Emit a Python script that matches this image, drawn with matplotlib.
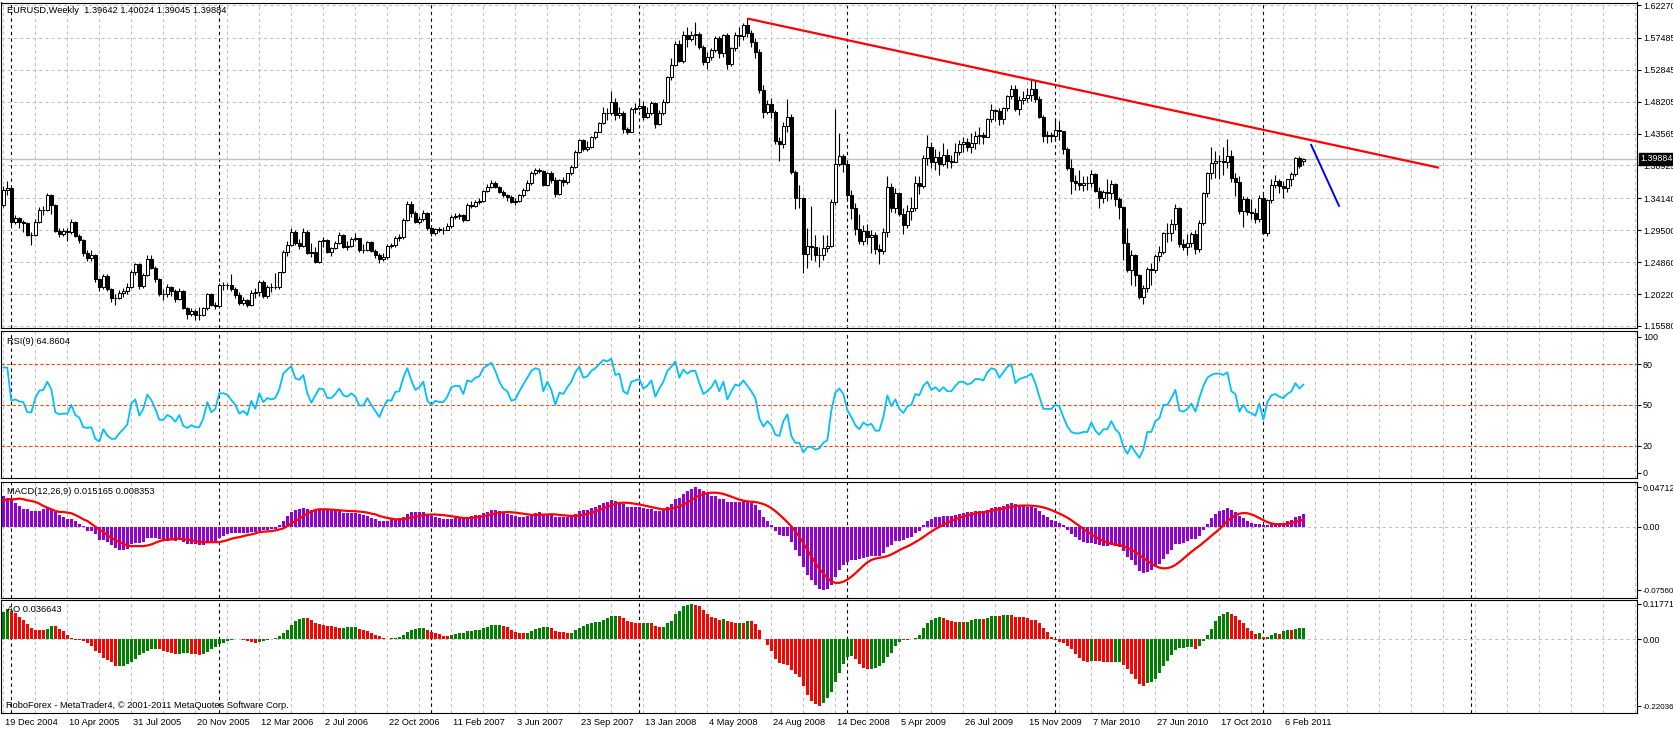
import matplotlib
matplotlib.use("Agg")
import matplotlib.pyplot as plt
import numpy as np

# ---- weekly EURUSD bars, 19 Dec 2004 .. 13 Mar 2011 (bar index 0..325) ----
closes = [
    1.3537, 1.3560, 1.3075, 1.3133, 1.3064, 1.3050, 1.2884, 1.2880, 1.3076, 1.3246,
    1.3250, 1.3464, 1.3319, 1.2945, 1.2897, 1.2940, 1.2930, 1.3066, 1.2868, 1.2810,
    1.2615, 1.2543, 1.2591, 1.2237, 1.2120, 1.2285, 1.2096, 1.1960, 1.1965, 1.2043,
    1.2067, 1.2130, 1.2349, 1.2455, 1.2145, 1.2300, 1.2533, 1.2407, 1.2237, 1.2024,
    1.2020, 1.2130, 1.2072, 1.1946, 1.2067, 1.1815, 1.1728, 1.1780, 1.1718, 1.1720,
    1.1815, 1.2019, 1.1864, 1.1850, 1.2155, 1.2160, 1.2150, 1.2096, 1.2009, 1.1898,
    1.1935, 1.1864, 1.2043, 1.2048, 1.2203, 1.1990, 1.2130, 1.2120, 1.2130, 1.2339,
    1.2630, 1.2737, 1.2931, 1.2771, 1.2722, 1.2931, 1.2625, 1.2640, 1.2494, 1.2795,
    1.2809, 1.2640, 1.2688, 1.2760, 1.2882, 1.2712, 1.2722, 1.2819, 1.2834, 1.2664,
    1.2670, 1.2775, 1.2654, 1.2591, 1.2528, 1.2560, 1.2727, 1.2737, 1.2834, 1.2858,
    1.3100, 1.3333, 1.3197, 1.3076, 1.3110, 1.3197, 1.2979, 1.2916, 1.2965, 1.2955,
    1.2960, 1.3013, 1.3149, 1.3163, 1.3173, 1.3100, 1.3319, 1.3309, 1.3362, 1.3377,
    1.3527, 1.3586, 1.3644, 1.3586, 1.3513, 1.3464, 1.3440, 1.3367, 1.3381, 1.3460,
    1.3537, 1.3644, 1.3789, 1.3828, 1.3818, 1.3610, 1.3779, 1.3682, 1.3479, 1.3682,
    1.3658, 1.3779, 1.3876, 1.4095, 1.4264, 1.4129, 1.4167, 1.4303, 1.4386, 1.4507,
    1.4662, 1.4652, 1.4822, 1.4628, 1.4652, 1.4420, 1.4386, 1.4710, 1.4725, 1.4764,
    1.4604, 1.4662, 1.4798, 1.4497, 1.4662, 1.4822, 1.5176, 1.5356, 1.5661, 1.5414,
    1.5792, 1.5729, 1.5792, 1.5802, 1.5613, 1.5404, 1.5467, 1.5574, 1.5744, 1.5535,
    1.5792, 1.5365, 1.5598, 1.5792, 1.5777, 1.5938, 1.5826, 1.5695, 1.5550, 1.4992,
    1.4677, 1.4789, 1.4677, 1.4255, 1.4206, 1.4468, 1.4604, 1.3792, 1.3423, 1.3423,
    1.2606, 1.2722, 1.2712, 1.2591, 1.2596, 1.2688, 1.2722, 1.3367, 1.3915, 1.4032,
    1.3915, 1.3464, 1.3270, 1.2964, 1.2800, 1.2940, 1.2858, 1.2880, 1.2674, 1.2654,
    1.2931, 1.3576, 1.3270, 1.3498, 1.3188, 1.3028, 1.3236, 1.3270, 1.3644, 1.3600,
    1.3998, 1.4158, 1.3949, 1.4022, 1.3915, 1.4050, 1.3960, 1.3950, 1.4095, 1.4206,
    1.4230, 1.4167, 1.4216, 1.4327, 1.4330, 1.4313, 1.4565, 1.4701, 1.4690, 1.4565,
    1.4725, 1.4905, 1.5002, 1.4711, 1.4846, 1.4870, 1.4919, 1.5000, 1.4856, 1.4594,
    1.4322, 1.4330, 1.4320, 1.4410, 1.4390, 1.4128, 1.3852, 1.3673, 1.3640, 1.3610,
    1.3634, 1.3640, 1.3770, 1.3527, 1.3416, 1.3500, 1.3495, 1.3620, 1.3404, 1.3292,
    1.2768, 1.2371, 1.2587, 1.2296, 1.1980, 1.2106, 1.2382, 1.2373, 1.2577, 1.2640,
    1.2916, 1.2905, 1.3042, 1.3270, 1.2746, 1.2702, 1.2761, 1.2897, 1.2674, 1.3052,
    1.3488, 1.3780, 1.3935, 1.3964, 1.3965, 1.3940, 1.4032, 1.3707, 1.3658, 1.3236,
    1.3401, 1.3222, 1.3200, 1.3110, 1.3416, 1.2906, 1.3391, 1.3610, 1.3660, 1.3600,
    1.3560, 1.3690, 1.3775, 1.4003, 1.3886, 1.39884,
]
opens = [
    1.3319, 1.3537, 1.3560, 1.3075, 1.3133, 1.3064, 1.3050, 1.2884, 1.2880, 1.3076,
    1.3246, 1.3250, 1.3464, 1.3319, 1.2945, 1.2897, 1.2940, 1.2930, 1.3066, 1.2868,
    1.2810, 1.2615, 1.2543, 1.2591, 1.2237, 1.2120, 1.2285, 1.2096, 1.1960, 1.1965,
    1.2043, 1.2067, 1.2130, 1.2349, 1.2455, 1.2145, 1.2300, 1.2533, 1.2407, 1.2237,
    1.2024, 1.2020, 1.2130, 1.2072, 1.1946, 1.2067, 1.1815, 1.1728, 1.1780, 1.1718,
    1.1720, 1.1815, 1.2019, 1.1864, 1.1850, 1.2155, 1.2160, 1.2150, 1.2096, 1.2009,
    1.1898, 1.1935, 1.1864, 1.2043, 1.2048, 1.2203, 1.1990, 1.2130, 1.2120, 1.2130,
    1.2339, 1.2630, 1.2737, 1.2931, 1.2771, 1.2722, 1.2931, 1.2625, 1.2640, 1.2494,
    1.2795, 1.2809, 1.2640, 1.2688, 1.2760, 1.2882, 1.2712, 1.2722, 1.2819, 1.2834,
    1.2664, 1.2670, 1.2775, 1.2654, 1.2591, 1.2528, 1.2560, 1.2727, 1.2737, 1.2834,
    1.2858, 1.3100, 1.3333, 1.3197, 1.3076, 1.3110, 1.3197, 1.2979, 1.2916, 1.2965,
    1.2955, 1.2960, 1.3013, 1.3149, 1.3163, 1.3173, 1.3100, 1.3319, 1.3309, 1.3362,
    1.3377, 1.3527, 1.3586, 1.3644, 1.3586, 1.3513, 1.3464, 1.3440, 1.3367, 1.3381,
    1.3460, 1.3537, 1.3644, 1.3789, 1.3828, 1.3818, 1.3610, 1.3779, 1.3682, 1.3479,
    1.3682, 1.3658, 1.3779, 1.3876, 1.4095, 1.4264, 1.4129, 1.4167, 1.4303, 1.4386,
    1.4507, 1.4662, 1.4652, 1.4822, 1.4628, 1.4652, 1.4420, 1.4386, 1.4710, 1.4725,
    1.4764, 1.4604, 1.4662, 1.4798, 1.4497, 1.4662, 1.4822, 1.5176, 1.5356, 1.5661,
    1.5414, 1.5792, 1.5729, 1.5792, 1.5802, 1.5613, 1.5404, 1.5467, 1.5574, 1.5744,
    1.5535, 1.5792, 1.5365, 1.5598, 1.5792, 1.5777, 1.5938, 1.5826, 1.5695, 1.5550,
    1.4992, 1.4677, 1.4789, 1.4677, 1.4255, 1.4206, 1.4468, 1.4604, 1.3792, 1.3423,
    1.3423, 1.2606, 1.2722, 1.2712, 1.2591, 1.2596, 1.2688, 1.2722, 1.3367, 1.3915,
    1.4032, 1.3915, 1.3464, 1.3270, 1.2964, 1.2800, 1.2940, 1.2858, 1.2880, 1.2674,
    1.2654, 1.2931, 1.3576, 1.3270, 1.3498, 1.3188, 1.3028, 1.3236, 1.3270, 1.3644,
    1.3600, 1.3998, 1.4158, 1.3949, 1.4022, 1.3915, 1.4050, 1.3960, 1.3950, 1.4095,
    1.4206, 1.4230, 1.4167, 1.4216, 1.4327, 1.4330, 1.4313, 1.4565, 1.4701, 1.4690,
    1.4565, 1.4725, 1.4905, 1.5002, 1.4711, 1.4846, 1.4870, 1.4919, 1.5000, 1.4856,
    1.4594, 1.4322, 1.4330, 1.4320, 1.4410, 1.4390, 1.4128, 1.3852, 1.3673, 1.3640,
    1.3610, 1.3634, 1.3640, 1.3770, 1.3527, 1.3416, 1.3500, 1.3495, 1.3620, 1.3404,
    1.3292, 1.2768, 1.2371, 1.2587, 1.2296, 1.1980, 1.2106, 1.2382, 1.2373, 1.2577,
    1.2640, 1.2916, 1.2905, 1.3042, 1.3270, 1.2746, 1.2702, 1.2761, 1.2897, 1.2674,
    1.3052, 1.3488, 1.3780, 1.3935, 1.3964, 1.3965, 1.3940, 1.4032, 1.3707, 1.3658,
    1.3236, 1.3401, 1.3222, 1.3200, 1.3110, 1.3416, 1.2906, 1.3391, 1.3610, 1.3660,
    1.3600, 1.3560, 1.3690, 1.3775, 1.4003, 1.39642,
]
highs = [
    1.3600, 1.3666, 1.3580, 1.3170, 1.3140, 1.3100, 1.3070, 1.2920, 1.3110, 1.3290,
    1.3300, 1.3490, 1.3480, 1.3330, 1.2990, 1.2990, 1.2980, 1.3110, 1.3080, 1.2900,
    1.2830, 1.2660, 1.2660, 1.2610, 1.2250, 1.2310, 1.2310, 1.2110, 1.2030, 1.2080,
    1.2110, 1.2180, 1.2370, 1.2470, 1.2480, 1.2330, 1.2590, 1.2590, 1.2430, 1.2250,
    1.2090, 1.2170, 1.2140, 1.2100, 1.2110, 1.2080, 1.1830, 1.1820, 1.1800, 1.1840,
    1.1830, 1.2040, 1.2040, 1.1900, 1.2190, 1.2200, 1.2180, 1.2320, 1.2120, 1.2050,
    1.1980, 1.1950, 1.2080, 1.2110, 1.2230, 1.2230, 1.2160, 1.2190, 1.2330, 1.2350,
    1.2660, 1.2790, 1.2980, 1.2960, 1.2830, 1.2980, 1.2950, 1.2760, 1.2700, 1.2810,
    1.2850, 1.2830, 1.2710, 1.2800, 1.2920, 1.2890, 1.2790, 1.2850, 1.2910, 1.2840,
    1.2750, 1.2800, 1.2790, 1.2680, 1.2620, 1.2620, 1.2750, 1.2770, 1.2870, 1.2900,
    1.3130, 1.3370, 1.3370, 1.3230, 1.3160, 1.3240, 1.3220, 1.3010, 1.2990, 1.3000,
    1.3000, 1.3050, 1.3170, 1.3200, 1.3200, 1.3190, 1.3340, 1.3370, 1.3390, 1.3420,
    1.3540, 1.3620, 1.3680, 1.3660, 1.3600, 1.3530, 1.3480, 1.3460, 1.3420, 1.3480,
    1.3560, 1.3680, 1.3810, 1.3850, 1.3850, 1.3830, 1.3800, 1.3810, 1.3720, 1.3700,
    1.3730, 1.3790, 1.3900, 1.4120, 1.4280, 1.4280, 1.4250, 1.4320, 1.4400, 1.4530,
    1.4750, 1.4730, 1.4970, 1.4870, 1.4740, 1.4690, 1.4450, 1.4750, 1.4800, 1.4880,
    1.4830, 1.4740, 1.4830, 1.4820, 1.4700, 1.4860, 1.5200, 1.5460, 1.5710, 1.5720,
    1.5850, 1.5900, 1.5850, 1.5980, 1.5840, 1.5640, 1.5550, 1.5600, 1.5780, 1.5780,
    1.5810, 1.5820, 1.5620, 1.5830, 1.5900, 1.5970, 1.6038, 1.5870, 1.5740, 1.5590,
    1.5060, 1.4840, 1.4870, 1.4700, 1.4300, 1.4520, 1.4867, 1.4640, 1.3830, 1.3610,
    1.3440, 1.2990, 1.3298, 1.2880, 1.2700, 1.2880, 1.2880, 1.3400, 1.4719, 1.4360,
    1.4060, 1.3960, 1.3540, 1.3340, 1.3180, 1.3020, 1.3040, 1.2960, 1.2930, 1.2750,
    1.2990, 1.3740, 1.3640, 1.3570, 1.3500, 1.3280, 1.3320, 1.3440, 1.3740, 1.3740,
    1.4050, 1.4340, 1.4230, 1.4130, 1.4100, 1.4220, 1.4130, 1.4050, 1.4220, 1.4260,
    1.4300, 1.4290, 1.4360, 1.4390, 1.4450, 1.4380, 1.4580, 1.4790, 1.4720, 1.4730,
    1.4750, 1.4920, 1.5060, 1.5070, 1.4900, 1.4970, 1.5020, 1.5144, 1.5143, 1.4900,
    1.4620, 1.4390, 1.4380, 1.4580, 1.4540, 1.4390, 1.4160, 1.3980, 1.3750, 1.3820,
    1.3740, 1.3740, 1.3820, 1.3790, 1.3580, 1.3540, 1.3690, 1.3680, 1.3640, 1.3440,
    1.3300, 1.2990, 1.2670, 1.2610, 1.2320, 1.2160, 1.2420, 1.2470, 1.2610, 1.2720,
    1.2920, 1.3050, 1.3110, 1.3330, 1.3290, 1.2830, 1.2900, 1.2920, 1.2960, 1.3100,
    1.3500, 1.3800, 1.4160, 1.4110, 1.4050, 1.4160, 1.4282, 1.4120, 1.3780, 1.3740,
    1.3450, 1.3430, 1.3410, 1.3280, 1.3460, 1.3480, 1.3400, 1.3700, 1.3760, 1.3700,
    1.3670, 1.3700, 1.3800, 1.4010, 1.4035, 1.40024,
]
lows = [
    1.3290, 1.3470, 1.3010, 1.3040, 1.2990, 1.2920, 1.2860, 1.2730, 1.2870, 1.3050,
    1.3170, 1.3230, 1.3180, 1.2930, 1.2850, 1.2870, 1.2800, 1.2900, 1.2850, 1.2770,
    1.2580, 1.2500, 1.2510, 1.2200, 1.2070, 1.2090, 1.2070, 1.1910, 1.1870, 1.1950,
    1.1980, 1.2020, 1.2110, 1.2300, 1.2100, 1.2110, 1.2290, 1.2380, 1.2200, 1.1990,
    1.1940, 1.1980, 1.2000, 1.1910, 1.1930, 1.1800, 1.1660, 1.1710, 1.1650, 1.1640,
    1.1700, 1.1790, 1.1850, 1.1800, 1.1840, 1.2080, 1.2090, 1.2060, 1.1960, 1.1870,
    1.1860, 1.1830, 1.1850, 1.1960, 1.1990, 1.1960, 1.1970, 1.2050, 1.2090, 1.2100,
    1.2330, 1.2580, 1.2720, 1.2730, 1.2680, 1.2700, 1.2600, 1.2560, 1.2470, 1.2480,
    1.2700, 1.2620, 1.2580, 1.2680, 1.2750, 1.2690, 1.2670, 1.2710, 1.2790, 1.2640,
    1.2620, 1.2650, 1.2640, 1.2550, 1.2480, 1.2500, 1.2530, 1.2690, 1.2710, 1.2800,
    1.2830, 1.3080, 1.3150, 1.3050, 1.3040, 1.3080, 1.2960, 1.2870, 1.2880, 1.2920,
    1.2900, 1.2950, 1.2990, 1.3110, 1.3110, 1.3070, 1.3090, 1.3270, 1.3290, 1.3330,
    1.3360, 1.3510, 1.3560, 1.3560, 1.3490, 1.3440, 1.3380, 1.3350, 1.3320, 1.3360,
    1.3440, 1.3520, 1.3610, 1.3760, 1.3780, 1.3590, 1.3600, 1.3640, 1.3430, 1.3460,
    1.3600, 1.3620, 1.3760, 1.3860, 1.4070, 1.4110, 1.4100, 1.4150, 1.4280, 1.4380,
    1.4490, 1.4560, 1.4630, 1.4560, 1.4580, 1.4370, 1.4350, 1.4380, 1.4660, 1.4700,
    1.4560, 1.4580, 1.4630, 1.4440, 1.4480, 1.4630, 1.4800, 1.5140, 1.5340, 1.5400,
    1.5390, 1.5620, 1.5700, 1.5640, 1.5580, 1.5360, 1.5290, 1.5430, 1.5540, 1.5460,
    1.5470, 1.5300, 1.5340, 1.5560, 1.5630, 1.5720, 1.5760, 1.5620, 1.5460, 1.4950,
    1.4590, 1.4640, 1.4580, 1.4200, 1.3960, 1.4150, 1.4380, 1.3770, 1.3260, 1.3270,
    1.2330, 1.2400, 1.2520, 1.2500, 1.2420, 1.2520, 1.2630, 1.2700, 1.3320, 1.3890,
    1.3800, 1.3370, 1.3120, 1.2880, 1.2750, 1.2740, 1.2750, 1.2620, 1.2600, 1.2460,
    1.2600, 1.2850, 1.3210, 1.3200, 1.3160, 1.2890, 1.2980, 1.3100, 1.3230, 1.3480,
    1.3570, 1.3900, 1.3850, 1.3820, 1.3750, 1.3880, 1.3860, 1.3850, 1.3950, 1.4050,
    1.4090, 1.4100, 1.4080, 1.4130, 1.4200, 1.4210, 1.4300, 1.4520, 1.4540, 1.4480,
    1.4490, 1.4690, 1.4860, 1.4680, 1.4620, 1.4780, 1.4820, 1.4830, 1.4820, 1.4580,
    1.4240, 1.4220, 1.4230, 1.4260, 1.4260, 1.4060, 1.3830, 1.3480, 1.3540, 1.3530,
    1.3520, 1.3530, 1.3580, 1.3500, 1.3270, 1.3340, 1.3380, 1.3410, 1.3310, 1.3110,
    1.2520, 1.2350, 1.2150, 1.2140, 1.1950, 1.1876, 1.2050, 1.2150, 1.2330, 1.2510,
    1.2610, 1.2780, 1.2790, 1.2950, 1.2710, 1.2660, 1.2590, 1.2710, 1.2600, 1.2640,
    1.3020, 1.3440, 1.3690, 1.3710, 1.3700, 1.3760, 1.3860, 1.3650, 1.3450, 1.3180,
    1.3000, 1.3170, 1.3110, 1.3060, 1.3070, 1.2900, 1.2870, 1.3340, 1.3560, 1.3490,
    1.3420, 1.3500, 1.3590, 1.3740, 1.3850, 1.39045,
]

# ---- indicator readings (same bar index) ----
rsi_values = [
    77.5, 77.5, 53, 54, 52.5, 52, 44.5, 44.5, 55, 60.5,
    61, 67, 61.5, 44.5, 43, 43.5, 43.5, 50, 42.5, 40.5,
    33.5, 33, 33.5, 25, 23, 32, 27.5, 25, 25, 29,
    32, 35.5, 51, 54, 42, 47, 57.5, 53.5, 47, 39,
    39, 42.5, 41, 37.5, 42.5, 34.5, 33, 35, 33.5, 33.5,
    40, 52, 44.5, 47, 58.5, 58.5, 57.5, 53.5, 50, 43.5,
    45.5, 42.5, 53, 47, 58.5, 52, 55, 54, 55, 61.5,
    73, 76, 78.5, 69.5, 68.5, 72, 58.5, 51.5, 57, 62,
    61.5, 55, 55, 58, 62, 57, 56, 58.5, 56, 49.5,
    49.5, 55, 50, 45.5, 41, 48, 53.5, 53, 59.5, 60,
    70, 77, 68, 61, 63, 67, 53, 50, 53, 52,
    52, 56, 63, 64, 64, 58, 68, 67, 70, 71,
    77, 79, 81, 75, 67, 62, 60, 53, 54, 60,
    65, 70, 75, 77, 76, 60, 67, 61, 50, 59,
    58, 63, 67, 74, 78, 70, 71, 75, 77, 80,
    83, 82, 84, 72, 73, 60, 58, 67, 68, 69,
    62, 64, 68, 56, 62, 67, 75, 78, 82, 70,
    76, 73, 75, 75, 66, 58, 60, 63, 68, 60,
    67, 54, 60, 65, 64, 68, 64, 60, 55, 40,
    34, 38, 35, 28, 27, 38, 43, 27, 22, 22,
    15, 19, 19, 17, 18, 22, 24, 46, 59, 62,
    58, 46, 41, 35, 32, 37, 35, 36, 31, 31,
    41, 57, 49, 54, 47, 44, 49, 50, 58, 57,
    64, 67, 61, 63, 60, 63, 60, 60, 64, 67,
    67, 65, 66, 69, 69, 68, 74, 77, 76, 70,
    74, 78, 80, 66, 69, 70, 71, 73, 66, 56,
    47, 47, 47, 50, 49, 41, 34, 30, 29, 29,
    30, 30, 37, 31, 28, 32, 32, 38, 32, 29,
    19, 14, 20, 15, 11, 17, 30, 30, 38, 40,
    50, 50, 55, 61, 46, 45, 47, 51, 45, 55,
    64, 70, 72, 73, 73, 72, 74, 60, 58, 45,
    50, 45, 44, 42, 51, 39, 52, 57, 58, 56,
    55, 58, 60, 66, 62, 64.86,
]
macd_main = [
    0.0367, 0.0347, 0.0327, 0.0287, 0.0247, 0.0215, 0.0207, 0.0188, 0.0188, 0.0188,
    0.0207, 0.0235, 0.0215, 0.0176, 0.0136, 0.0116, 0.0096, 0.0088, 0.0068, 0.0028,
    0.0008, -0.0052, -0.0052, -0.0092, -0.0160, -0.0164, -0.0184, -0.0223, -0.0251, -0.0279,
    -0.0279, -0.0263, -0.0211, -0.0192, -0.0192, -0.0184, -0.0132, -0.0132, -0.0132, -0.0152,
    -0.0160, -0.0172, -0.0160, -0.0172, -0.0160, -0.0184, -0.0200, -0.0200, -0.0211, -0.0219,
    -0.0219, -0.0184, -0.0172, -0.0172, -0.0132, -0.0112, -0.0092, -0.0080, -0.0072, -0.0072,
    -0.0072, -0.0072, -0.0064, -0.0064, -0.0052, -0.0040, -0.0040, -0.0032, -0.0024, 0.0016,
    0.0068, 0.0128, 0.0176, 0.0196, 0.0207, 0.0227, 0.0207, 0.0200, 0.0188, 0.0207,
    0.0207, 0.0200, 0.0200, 0.0188, 0.0188, 0.0168, 0.0160, 0.0168, 0.0168, 0.0148,
    0.0136, 0.0128, 0.0108, 0.0088, 0.0068, 0.0068, 0.0068, 0.0088, 0.0096, 0.0100,
    0.0120, 0.0155, 0.0170, 0.0170, 0.0170, 0.0172, 0.0150, 0.0130, 0.0118, 0.0105,
    0.0095, 0.0090, 0.0095, 0.0100, 0.0105, 0.0100, 0.0115, 0.0125, 0.0135, 0.0145,
    0.0165, 0.0180, 0.0195, 0.0195, 0.0185, 0.0170, 0.0155, 0.0135, 0.0122, 0.0118,
    0.0120, 0.0128, 0.0145, 0.0160, 0.0170, 0.0155, 0.0155, 0.0145, 0.0120, 0.0120,
    0.0115, 0.0120, 0.0130, 0.0155, 0.0185, 0.0195, 0.0205, 0.0220, 0.0240, 0.0260,
    0.0285, 0.0300, 0.0320, 0.0310, 0.0300, 0.0265, 0.0235, 0.0240, 0.0240, 0.0240,
    0.0225, 0.0215, 0.0215, 0.0190, 0.0185, 0.0195, 0.0230, 0.0270, 0.0325, 0.0345,
    0.0395, 0.0425, 0.0455, 0.0471, 0.0455, 0.0420, 0.0390, 0.0370, 0.0360, 0.0335,
    0.0335, 0.0300, 0.0290, 0.0295, 0.0295, 0.0305, 0.0300, 0.0285, 0.0260, 0.0195,
    0.0120, 0.0070, 0.0025, -0.0045, -0.0100, -0.0115, -0.0110, -0.0185, -0.0280, -0.0350,
    -0.0480, -0.0570, -0.0640, -0.0695, -0.0740, -0.0756, -0.0745, -0.0690, -0.0600, -0.0510,
    -0.0450, -0.0420, -0.0400, -0.0395, -0.0390, -0.0375, -0.0365, -0.0350, -0.0350, -0.0345,
    -0.0315, -0.0245, -0.0215, -0.0175, -0.0165, -0.0160, -0.0140, -0.0120, -0.0080, -0.0050,
    0.0020, 0.0065, 0.0090, 0.0110, 0.0115, 0.0125, 0.0130, 0.0130, 0.0140, 0.0155,
    0.0165, 0.0170, 0.0175, 0.0185, 0.0190, 0.0190, 0.0205, 0.0225, 0.0240, 0.0240,
    0.0250, 0.0265, 0.0280, 0.0265, 0.0255, 0.0245, 0.0235, 0.0235, 0.0220, 0.0190,
    0.0145, 0.0110, 0.0080, 0.0065, 0.0050, 0.0015, -0.0035, -0.0085, -0.0125, -0.0160,
    -0.0180, -0.0195, -0.0190, -0.0205, -0.0220, -0.0225, -0.0225, -0.0215, -0.0225, -0.0240,
    -0.0290, -0.0360, -0.0400, -0.0460, -0.0530, -0.0555, -0.0540, -0.0520, -0.0480, -0.0440,
    -0.0380, -0.0330, -0.0275, -0.0210, -0.0200, -0.0190, -0.0175, -0.0150, -0.0145, -0.0105,
    -0.0035, 0.0035, 0.0100, 0.0150, 0.0185, 0.0205, 0.0225, 0.0205, 0.0180, 0.0130,
    0.0100, 0.0065, 0.0040, 0.0030, 0.0030, 0.0020, 0.0025, 0.0035, 0.0040, 0.0045,
    0.0050, 0.0065, 0.0080, 0.0110, 0.0125, 0.015165,
]
macd_signal = [
    0.0307, 0.0327, 0.0327, 0.0327, 0.0335, 0.0327, 0.0315, 0.0307, 0.0295, 0.0275,
    0.0247, 0.0227, 0.0207, 0.0188, 0.0176, 0.0176, 0.0168, 0.0160, 0.0140, 0.0116,
    0.0088, 0.0068, 0.0036, 0.0000, -0.0032, -0.0064, -0.0100, -0.0132, -0.0160, -0.0184,
    -0.0204, -0.0223, -0.0231, -0.0231, -0.0231, -0.0231, -0.0223, -0.0211, -0.0192, -0.0172,
    -0.0160, -0.0152, -0.0152, -0.0144, -0.0140, -0.0152, -0.0152, -0.0160, -0.0172, -0.0180,
    -0.0184, -0.0184, -0.0184, -0.0184, -0.0184, -0.0172, -0.0160, -0.0144, -0.0132, -0.0124,
    -0.0112, -0.0100, -0.0092, -0.0080, -0.0064, -0.0060, -0.0056, -0.0052, -0.0044, -0.0032,
    -0.0020, 0.0008, 0.0040, 0.0068, 0.0096, 0.0128, 0.0156, 0.0180, 0.0200, 0.0207,
    0.0207, 0.0207, 0.0203, 0.0200, 0.0196, 0.0192, 0.0188, 0.0188, 0.0184, 0.0180,
    0.0176, 0.0168, 0.0156, 0.0148, 0.0128, 0.0116, 0.0104, 0.0096, 0.0088, 0.0085,
    0.0090, 0.0098, 0.0108, 0.0118, 0.0128, 0.0138, 0.0143, 0.0145, 0.0145, 0.0142,
    0.0138, 0.0132, 0.0125, 0.0118, 0.0110, 0.0104, 0.0103, 0.0105, 0.0110, 0.0116,
    0.0125, 0.0135, 0.0147, 0.0158, 0.0166, 0.0172, 0.0174, 0.0172, 0.0168, 0.0161,
    0.0153, 0.0146, 0.0141, 0.0140, 0.0142, 0.0144, 0.0146, 0.0148, 0.0146, 0.0141,
    0.0137, 0.0132, 0.0128, 0.0128, 0.0133, 0.0142, 0.0153, 0.0166, 0.0182, 0.0199,
    0.0218, 0.0238, 0.0257, 0.0272, 0.0283, 0.0286, 0.0285, 0.0280, 0.0273, 0.0265,
    0.0255, 0.0245, 0.0235, 0.0224, 0.0214, 0.0207, 0.0208, 0.0214, 0.0226, 0.0242,
    0.0264, 0.0290, 0.0318, 0.0346, 0.0372, 0.0390, 0.0400, 0.0405, 0.0405, 0.0400,
    0.0390, 0.0375, 0.0358, 0.0340, 0.0323, 0.0310, 0.0302, 0.0298, 0.0294, 0.0284,
    0.0270, 0.0250, 0.0222, 0.0186, 0.0145, 0.0100, 0.0055, 0.0005, -0.0055, -0.0120,
    -0.0195, -0.0275, -0.0355, -0.0430, -0.0500, -0.0560, -0.0610, -0.0650, -0.0668, -0.0668,
    -0.0655, -0.0630, -0.0595, -0.0555, -0.0510, -0.0465, -0.0425, -0.0395, -0.0380, -0.0370,
    -0.0362, -0.0350, -0.0330, -0.0305, -0.0280, -0.0255, -0.0235, -0.0210, -0.0183, -0.0155,
    -0.0122, -0.0090, -0.0058, -0.0028, 0.0000, 0.0025, 0.0048, 0.0070, 0.0090, 0.0107,
    0.0122, 0.0135, 0.0146, 0.0157, 0.0166, 0.0173, 0.0180, 0.0189, 0.0198, 0.0207,
    0.0216, 0.0226, 0.0236, 0.0245, 0.0250, 0.0252, 0.0252, 0.0250, 0.0246, 0.0240,
    0.0230, 0.0216, 0.0198, 0.0178, 0.0157, 0.0134, 0.0108, 0.0078, 0.0044, 0.0010,
    -0.0025, -0.0060, -0.0090, -0.0120, -0.0147, -0.0170, -0.0189, -0.0203, -0.0214, -0.0220,
    -0.0232, -0.0250, -0.0272, -0.0300, -0.0335, -0.0372, -0.0407, -0.0440, -0.0467, -0.0487,
    -0.0496, -0.0493, -0.0480, -0.0455, -0.0420, -0.0381, -0.0340, -0.0299, -0.0262, -0.0228,
    -0.0190, -0.0150, -0.0108, -0.0070, -0.0030, 0.0020, 0.0068, 0.0105, 0.0135, 0.0155,
    0.0163, 0.0160, 0.0148, 0.0128, 0.0103, 0.0078, 0.0055, 0.0040, 0.0030, 0.0028,
    0.0030, 0.0035, 0.0045, 0.0057, 0.0070, 0.008353,
]
ao_values = [
    0.0900, 0.1000, 0.0930, 0.0870, 0.0760, 0.0650, 0.0520, 0.0380, 0.0310, 0.0310,
    0.0305, 0.0350, 0.0440, 0.0436, 0.0350, 0.0270, 0.0160, 0.0050, -0.0020, -0.0021,
    -0.0050, -0.0130, -0.0200, -0.0380, -0.0460, -0.0600, -0.0680, -0.0760, -0.0890, -0.0880,
    -0.0870, -0.0820, -0.0740, -0.0630, -0.0520, -0.0440, -0.0380, -0.0330, -0.0325, -0.0330,
    -0.0380, -0.0410, -0.0440, -0.0470, -0.0465, -0.0460, -0.0455, -0.0490, -0.0490, -0.0510,
    -0.0490, -0.0410, -0.0330, -0.0240, -0.0160, -0.0110, -0.0050, -0.0020, 0.0005, 0.0000,
    -0.0020, -0.0040, -0.0090, -0.0110, -0.0090, -0.0050, -0.0020, 0.0020, 0.0050, 0.0110,
    0.0200, 0.0310, 0.0490, 0.0600, 0.0680, 0.0710, 0.0705, 0.0630, 0.0550, 0.0520,
    0.0490, 0.0460, 0.0440, 0.0410, 0.0390, 0.0395, 0.0400, 0.0402, 0.0405, 0.0350,
    0.0310, 0.0270, 0.0220, 0.0160, 0.0110, 0.0050, 0.0030, 0.0050, 0.0060, 0.0080,
    0.0160, 0.0247, 0.0310, 0.0335, 0.0370, 0.0378, 0.0305, 0.0245, 0.0215, 0.0183,
    0.0126, 0.0122, 0.0149, 0.0178, 0.0211, 0.0226, 0.0268, 0.0284, 0.0310, 0.0330,
    0.0393, 0.0423, 0.0466, 0.0484, 0.0487, 0.0454, 0.0401, 0.0323, 0.0257, 0.0220,
    0.0211, 0.0225, 0.0281, 0.0343, 0.0393, 0.0399, 0.0409, 0.0369, 0.0290, 0.0247,
    0.0237, 0.0212, 0.0224, 0.0314, 0.0391, 0.0453, 0.0501, 0.0553, 0.0575, 0.0582,
    0.0649, 0.0707, 0.0768, 0.0779, 0.0775, 0.0703, 0.0628, 0.0572, 0.0556, 0.0540,
    0.0543, 0.0559, 0.0536, 0.0459, 0.0406, 0.0415, 0.0549, 0.0626, 0.0830, 0.0943,
    0.1097, 0.1155, 0.1177, 0.1139, 0.1118, 0.0973, 0.0860, 0.0759, 0.0696, 0.0630,
    0.0665, 0.0605, 0.0570, 0.0537, 0.0555, 0.0545, 0.0618, 0.0604, 0.0518, 0.0300,
    0.0020, -0.0194, -0.0397, -0.0640, -0.0786, -0.0822, -0.0853, -0.1010, -0.1140, -0.1255,
    -0.1551, -0.1851, -0.2030, -0.2120, -0.2204, -0.2090, -0.1938, -0.1736, -0.1421, -0.1093,
    -0.0803, -0.0592, -0.0539, -0.0653, -0.0811, -0.0935, -0.0977, -0.0969, -0.0936, -0.0868,
    -0.0785, -0.0579, -0.0433, -0.0225, -0.0074, -0.0003, -0.0029, 0.0000, 0.0046, 0.0154,
    0.0366, 0.0540, 0.0660, 0.0717, 0.0742, 0.0714, 0.0637, 0.0597, 0.0568, 0.0581,
    0.0573, 0.0592, 0.0636, 0.0673, 0.0686, 0.0678, 0.0719, 0.0765, 0.0782, 0.0781,
    0.0808, 0.0817, 0.0808, 0.0753, 0.0753, 0.0743, 0.0698, 0.0653, 0.0633, 0.0537,
    0.0395, 0.0246, 0.0090, -0.0023, -0.0076, -0.0113, -0.0206, -0.0325, -0.0471, -0.0614,
    -0.0703, -0.0737, -0.0707, -0.0710, -0.0725, -0.0732, -0.0740, -0.0749, -0.0747, -0.0742,
    -0.0835, -0.0991, -0.1136, -0.1291, -0.1473, -0.1523, -0.1444, -0.1418, -0.1294, -0.1096,
    -0.0876, -0.0710, -0.0522, -0.0345, -0.0277, -0.0272, -0.0255, -0.0240, -0.0309, -0.0216,
    -0.0048, 0.0153, 0.0352, 0.0600, 0.0772, 0.0854, 0.0896, 0.0846, 0.0777, 0.0640,
    0.0534, 0.0384, 0.0288, 0.0185, 0.0201, 0.0087, 0.0097, 0.0140, 0.0201, 0.0193,
    0.0289, 0.0311, 0.0308, 0.0337, 0.0366, 0.036643,
]

# ---- axis labels / annotations ----
date_labels = [
    "19 Dec 2004", "10 Apr 2005", "31 Jul 2005", "20 Nov 2005", "12 Mar 2006",
    "2 Jul 2006", "22 Oct 2006", "11 Feb 2007", "3 Jun 2007", "23 Sep 2007",
    "13 Jan 2008", "4 May 2008", "24 Aug 2008", "14 Dec 2008", "5 Apr 2009",
    "26 Jul 2009", "15 Nov 2009", "7 Mar 2010", "27 Jun 2010", "17 Oct 2010",
    "6 Feb 2011",
]
price_ticks = [1.62270, 1.57485, 1.52845, 1.48205, 1.43565, 1.38925,
               1.34140, 1.29500, 1.24860, 1.20220, 1.15580]
rsi_ticks = [100, 80, 50, 20, 0]
rsi_levels = [20, 50, 80]
macd_ticks = [0.04712, 0.0, -0.07560]
macd_tick_labels = ["0.04712", "0.00", "-0.07560"]
ao_ticks = [0.11771, 0.0, -0.22036]
ao_tick_labels = ["0.11771", "0.00", "-0.22036"]
year_start_bars = [2, 54, 107, 159, 211, 263, 315, 367]
red_trend = ([186, 358.9], [1.6030, 1.3860])
blue_trend = ([326.85, 334.0], [1.4205, 1.3293])
last_price = 1.39884

W, H = 1674, 730
FONT = "Liberation Sans"
FS = 6.7
FS_AXIS = 6.4
FS_AXIS_LONG = 5.8
GRID = "#c0c0c0"
DASH = (0, (3, 3))


def px_axes(fig, left, top, right, bottom):
    return fig.add_axes([left / W, 1 - bottom / H, (right - left) / W, (bottom - top) / H])


def style_panel(ax):
    ax.set_xlim(-0.45, 408.4)
    ax.set_facecolor("white")
    for sp in ax.spines.values():
        sp.set_color("black")
        sp.set_linewidth(0.8)
    ax.set_xticks(np.arange(0, 409, 8))
    ax.tick_params(axis="x", which="major", length=0, labelbottom=False)
    ax.grid(axis="x", color=GRID, lw=0.75, ls=DASH)
    for b in year_start_bars:
        ax.axvline(b, color="black", lw=0.8, ls=DASH, zorder=1)
    ax.yaxis.tick_right()
    ax.tick_params(axis="y", length=3, width=0.8, pad=1.2, labelsize=FS_AXIS,
                   direction="out")
    for lab in ax.get_yticklabels():
        lab.set_fontfamily(FONT)
        if len(lab.get_text()) > 7:
            lab.set_fontsize(FS_AXIS_LONG)


fig = plt.figure(figsize=(W / 100, H / 100), dpi=100)
fig.patch.set_facecolor("white")

ax_main = px_axes(fig, 1.5, 2.5, 1637, 328.3)
ax_rsi = px_axes(fig, 1.5, 331, 1637, 478.3)
ax_macd = px_axes(fig, 1.5, 481.7, 1637, 597.7)
ax_ao = px_axes(fig, 1.5, 600.3, 1637, 713.3)

# ---- main candles ----
o = np.array(opens)
c = np.array(closes)
hi = np.array(highs)
lo = np.array(lows)
x = np.arange(len(c))
up = c >= o
ax_main.set_ylim(1.15245, 1.62634)
ax_main.set_yticks(price_ticks)
ax_main.set_yticklabels([f"{v:.5f}" for v in price_ticks])
style_panel(ax_main)
ax_main.grid(axis="y", color=GRID, lw=0.75, ls=DASH)
ax_main.axhline(last_price, color="#c0c0c0", lw=1.0, zorder=1)
ax_main.vlines(x, lo, hi, color="black", lw=0.8, zorder=2)
body_lo = np.minimum(o, c)
body_h = np.abs(c - o)
ax_main.bar(x[up], body_h[up], bottom=body_lo[up], width=0.6,
            facecolor="white", edgecolor="black", lw=0.75, zorder=3)
ax_main.bar(x[~up], body_h[~up], bottom=body_lo[~up], width=0.6,
            facecolor="black", edgecolor="black", lw=0.75, zorder=3)
ax_main.plot(*red_trend, color="#ff0000", lw=1.6, zorder=4, solid_capstyle="butt")
ax_main.plot(*blue_trend, color="#0000ff", lw=1.4, zorder=4, solid_capstyle="butt")
ax_main.annotate(f"{last_price:.5f}", xy=(1, last_price), xycoords=("axes fraction", "data"),
                 xytext=(3, 0), textcoords="offset pixels", va="center", ha="left",
                 fontsize=FS_AXIS, family=FONT, color="white", zorder=10,
                 annotation_clip=False,
                 bbox=dict(boxstyle="square,pad=0.15", fc="black", ec="black"))

# ---- RSI ----
rsi = np.array(rsi_values)
ax_rsi.set_ylim(-4.13, 104.4)
ax_rsi.set_yticks(rsi_ticks)
ax_rsi.set_yticklabels([str(v) for v in rsi_ticks])
style_panel(ax_rsi)
for lvl in rsi_levels:
    ax_rsi.axhline(lvl, color="#ff4500", lw=0.8, ls=(0, (3, 2)), zorder=2)
ax_rsi.plot(np.arange(len(rsi)), rsi, color="#00bfff", lw=1.3, zorder=3)

# ---- MACD ----
mm = np.array(macd_main)
ms = np.array(macd_signal)
ax_macd.set_ylim(-0.0845, 0.0536)
ax_macd.set_yticks(macd_ticks)
ax_macd.set_yticklabels(macd_tick_labels)
style_panel(ax_macd)
ax_macd.axhline(0, color=GRID, lw=0.75, ls=DASH, zorder=1)
ax_macd.bar(np.arange(len(mm)), mm, width=0.7, color="#9400d3", lw=0, zorder=2)
ax_macd.plot(np.arange(len(ms)), ms, color="#ff0000", lw=1.6, zorder=3)

# ---- Awesome Oscillator ----
ao = np.array(ao_values)
ao_up = np.concatenate([[True], ao[1:] > ao[:-1]])
ax_ao.set_ylim(-0.2442, 0.1297)
ax_ao.set_yticks(ao_ticks)
ax_ao.set_yticklabels(ao_tick_labels)
style_panel(ax_ao)
ax_ao.axhline(0, color=GRID, lw=0.75, ls=DASH, zorder=1)
ax_ao.bar(np.arange(len(ao)), ao, width=0.7,
          color=np.where(ao_up, "#008000", "#ff0000"), lw=0, zorder=2)

# date labels under the last panel
label_bars = np.arange(len(date_labels)) * 16
ax_ao.set_xticks(label_bars, minor=True)
ax_ao.tick_params(axis="x", which="minor", length=4, width=0.8, direction="out",
                  bottom=True, labelbottom=False)
for b, lab in zip(label_bars, date_labels):
    ax_ao.annotate(lab, xy=(b, 0), xycoords=("data", "axes fraction"),
                   xytext=(2, -9), textcoords="offset pixels", ha="left", va="center",
                   fontsize=FS, family=FONT, color="black", annotation_clip=False)


# panel captions
def caption(xp, yp, s):
    fig.text(xp / W, 1 - yp / H, s, fontsize=FS, family=FONT, color="black",
             ha="left", va="center")


caption(7, 10.5, "EURUSD,Weekly  1.39642 1.40024 1.39045 1.39884")
caption(7, 341, "RSI(9) 64.8604")
caption(7, 491.5, "MACD(12,26,9) 0.015165 0.008353")
caption(7, 610, "AO 0.036643")
caption(6, 705, "RoboForex - MetaTrader4, \u00a9 2001-2011 MetaQuotes Software Corp.")

fig.savefig("out.png", dpi=100, facecolor="white")
